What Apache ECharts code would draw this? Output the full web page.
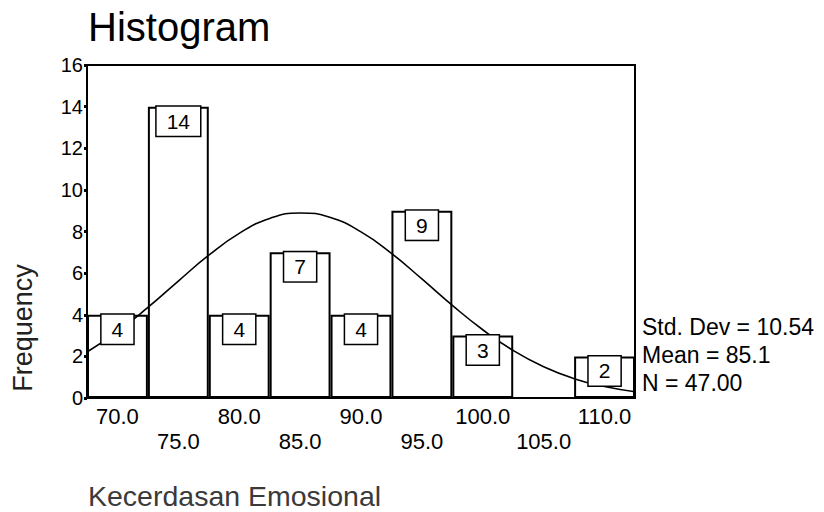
<!DOCTYPE html>
<html>
<head>
<meta charset="utf-8">
<script src="https://cdn.jsdelivr.net/npm/echarts@6/dist/echarts.min.js"></script>
<style>html,body{margin:0;padding:0;background:#fff}#c{width:824px;height:512px}</style>
</head>
<body>
<div id="c"></div>
<script>
const categories = ['70.0','75.0','80.0','85.0','90.0','95.0','100.0','105.0','110.0'];
const frequencies = [4, 14, 4, 7, 4, 9, 3, 0, 2];
const curveX = [67.5, 70, 72.5, 75, 77.5, 80, 82.5, 85, 87.5, 90, 92.5, 95, 97.5, 100, 102.5, 105, 107.5, 110, 112.5];
const curveY = [2.21, 3.19, 4.35, 5.62, 6.86, 7.91, 8.63, 8.89, 8.67, 7.98, 6.95, 5.72, 4.45, 3.28, 2.28, 1.50, 0.93, 0.55, 0.30];
const statsLines = ['Std. Dev = 10.54', 'Mean = 85.1', 'N = 47.00'];
const titleText = 'Histogram';
const xName = 'Kecerdasan Emosional';
const yName = 'Frequency';

const FONT = '"Liberation Sans", Arial, Helvetica, sans-serif';
const chart = echarts.init(document.getElementById('c'), null, {renderer: 'svg'});
chart.setOption({
  animation: false,
  backgroundColor: '#fff',
  grid: {left: 87, right: 189, top: 65, bottom: 114, show: true, borderColor: '#000', borderWidth: 2, backgroundColor: 'transparent'},
  xAxis: [{
    type: 'category', data: categories, boundaryGap: true,
    axisLine: {lineStyle: {color: '#000', width: 2}},
    axisTick: {alignWithLabel: true, length: 4, lineStyle: {color: '#000', width: 4}},
    axisLabel: {
      color: '#000', fontFamily: FONT, fontSize: 22, lineHeight: 25, margin: 6, interval: 0,
      formatter: (v, i) => (i % 2 === 1 ? '\n' + v : v)
    }
  }, {
    type: 'value', min: 67.5, max: 112.5, show: false
  }],
  yAxis: {
    type: 'value', min: 0, max: 16, interval: 2,
    axisLine: {show: true, lineStyle: {color: '#000', width: 2}},
    axisTick: {show: true, length: 3, lineStyle: {color: '#000', width: 3}},
    axisLabel: {color: '#000', fontFamily: FONT, fontSize: 20, margin: 4},
    splitLine: {show: false}
  },
  series: [{
    type: 'bar', xAxisIndex: 0, barWidth: '100%', barCategoryGap: 0, z: 2,
    data: frequencies.map(v => v > 0 ? v : {value: v, label: {show: false}}),
    itemStyle: {color: 'rgba(255,255,255,0)', borderColor: '#000', borderWidth: 2},
    label: {
      show: true, position: 'insideTop', distance: 0,
      color: '#000', fontFamily: FONT, fontSize: 21, lineHeight: 21,
      backgroundColor: '#fff', borderColor: '#000', borderWidth: 1.5, padding: [4, 10, 4, 10]
    }
  }, {
    type: 'line', xAxisIndex: 1, smooth: true, symbol: 'none', z: 1,
    data: curveX.map((x, i) => [x, curveY[i]]),
    lineStyle: {color: '#000', width: 1.6}
  }],
  graphic: [
    {type: 'text', left: 88, top: 7, style: {text: titleText, fontFamily: FONT, fontSize: 40, fill: '#000'}},
    {type: 'text', x: 23, y: 328, rotation: Math.PI / 2, style: {text: yName, fontFamily: FONT, fontSize: 27, fill: '#222', align: 'center', verticalAlign: 'middle'}},
    {type: 'text', left: 88, top: 481, style: {text: xName, fontFamily: FONT, fontSize: 28.5, fill: '#3a3a3a'}},
    {type: 'text', left: 642, top: 313, style: {text: statsLines.join('\n'), fontFamily: FONT, fontSize: 23, lineHeight: 28, fill: '#000'}}
  ]
});
</script>
</body>
</html>
